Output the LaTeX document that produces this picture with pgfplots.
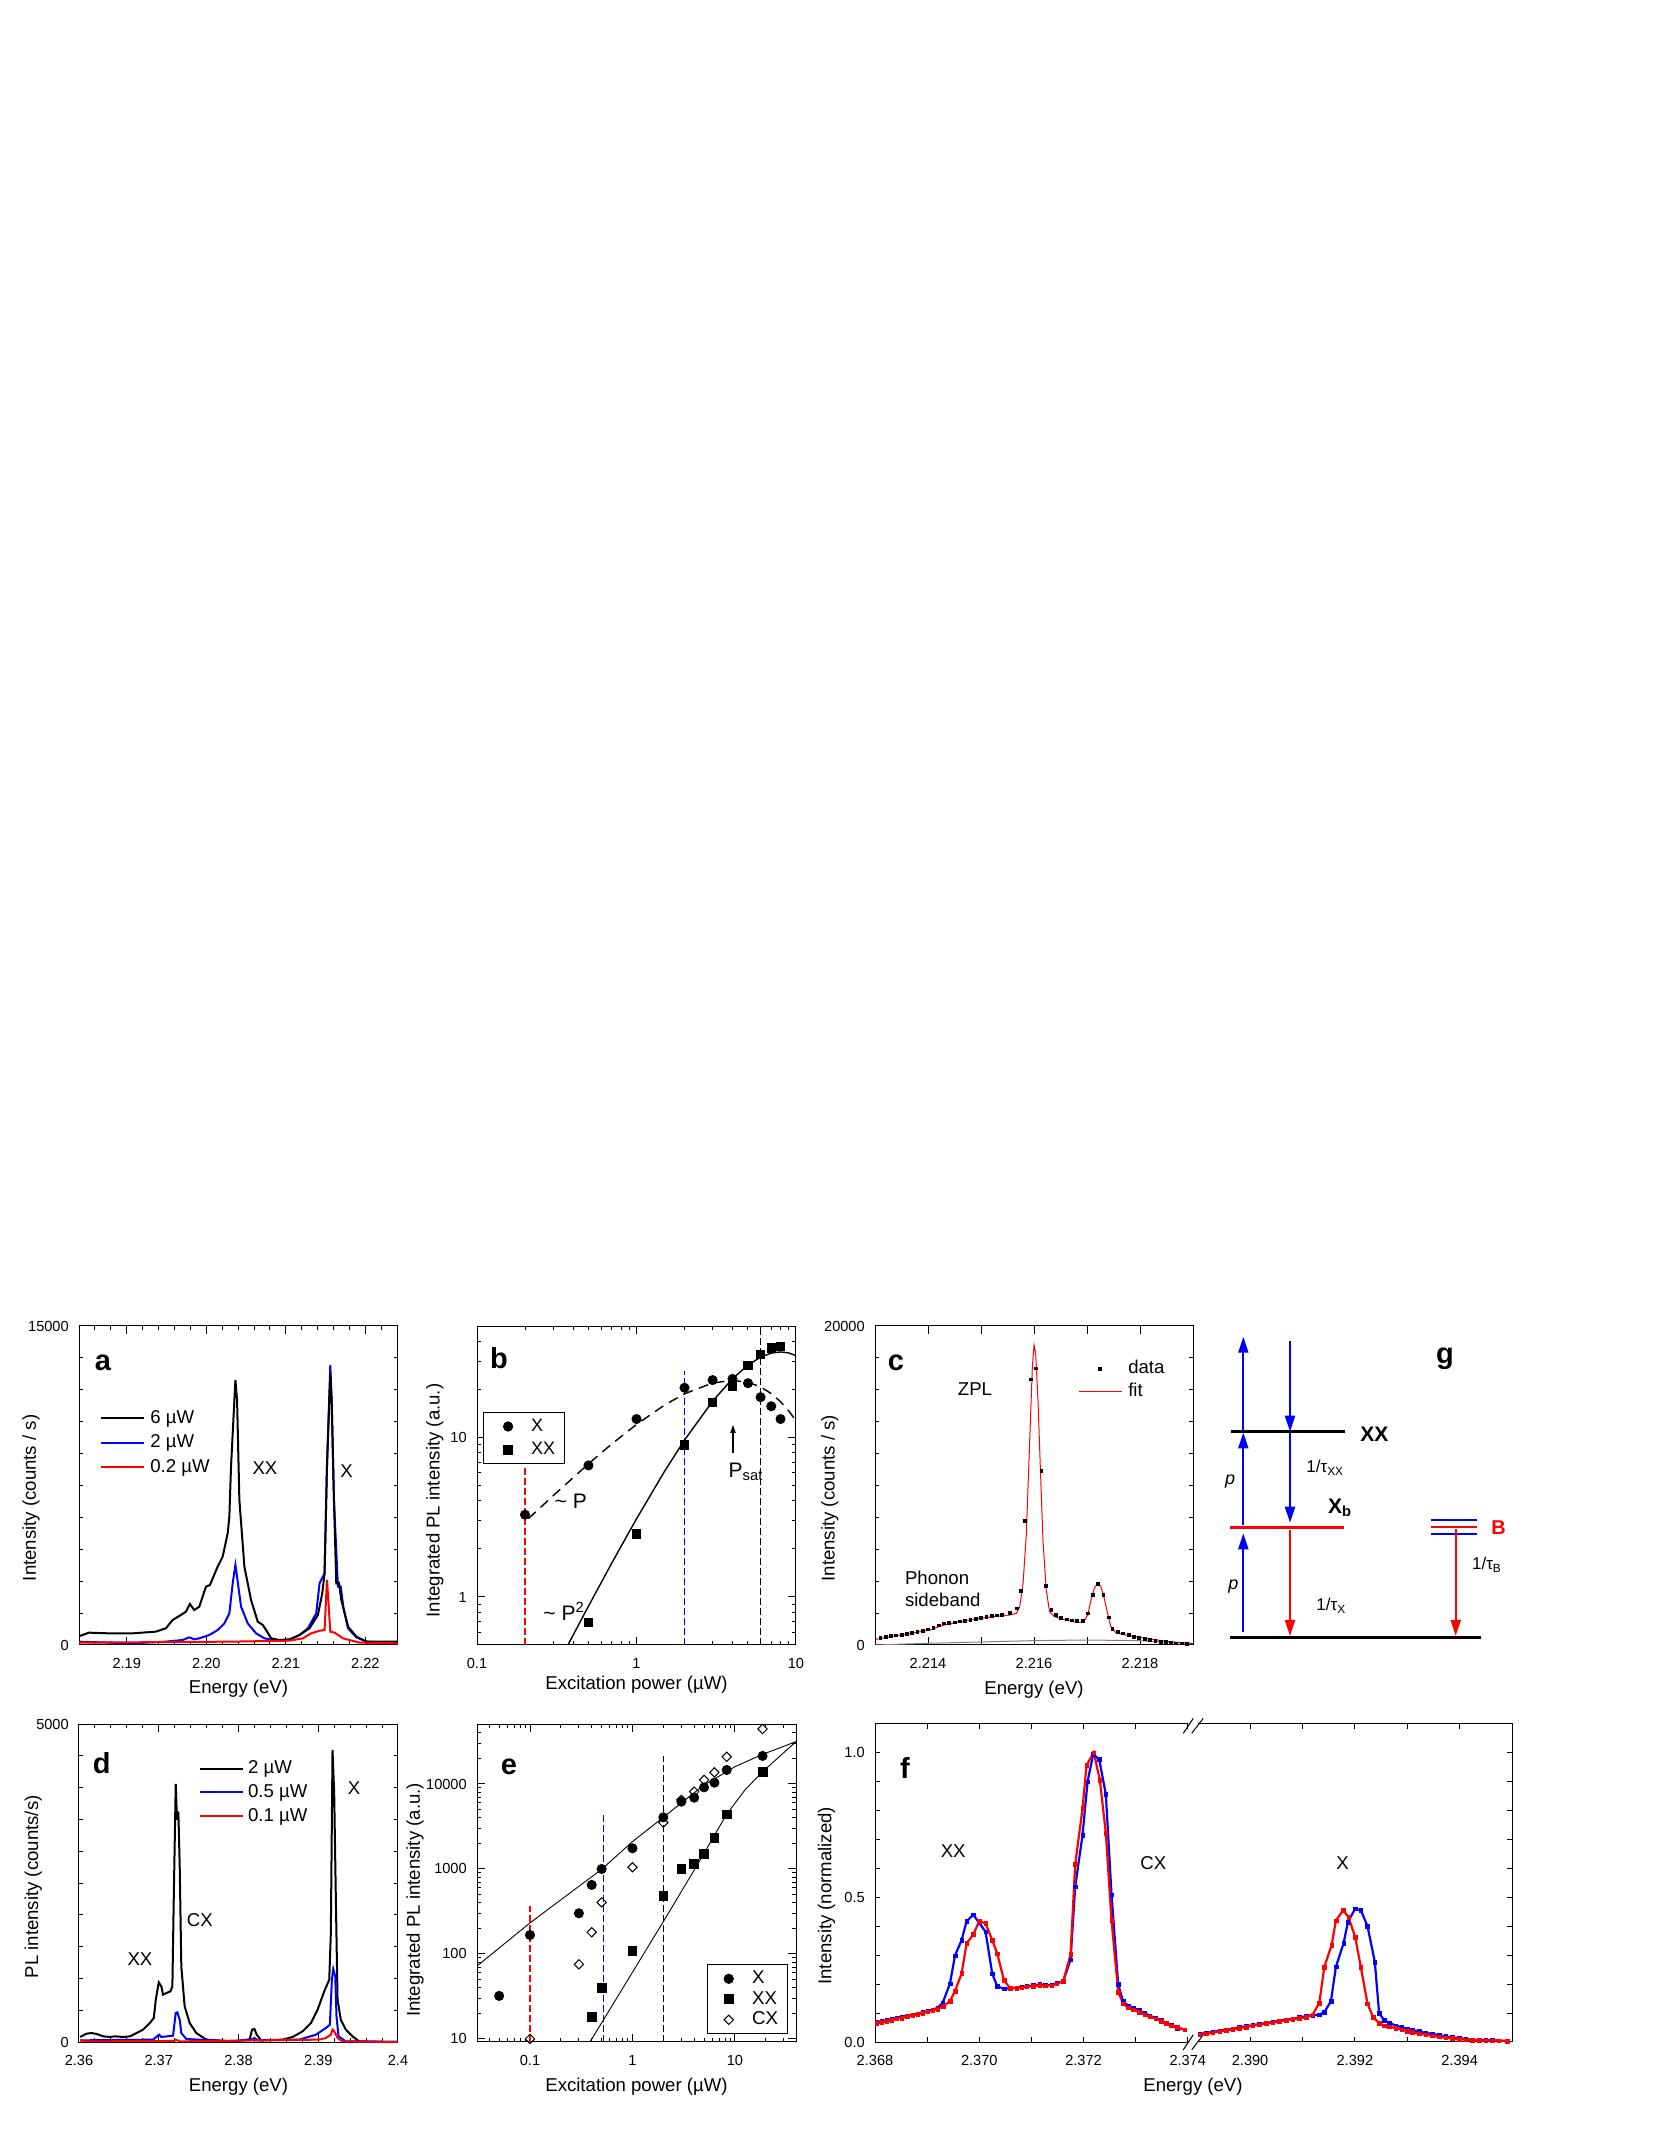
\documentclass[border=0pt]{standalone}
\usepackage{fontspec}
\setmainfont{Liberation Sans}
\usepackage{pgfplots}
\pgfplotsset{compat=1.18}
\usetikzlibrary{arrows.meta}
\newcommand\tfont{\fontsize{7.3}{8.5}\selectfont}
\newcommand\lfont{\fontsize{9.3}{11}\selectfont}
\newcommand\pfont{\fontsize{14.5}{16}\selectfont\bfseries}
\newcommand\afont{\fontsize{10.5}{12}\selectfont}

\pgfplotsset{
  panel/.style={scale only axis, anchor=south west, scaled ticks=false,
    axis line style={line width=0.5pt}, tick style={line width=0.5pt, black},
    major tick length=3.8pt, minor tick length=2pt,
    tick label style={font=\tfont}, xticklabel style={yshift=-3pt}, yticklabel style={xshift=-1.6pt},
    label style={font=\lfont}, legend cell align=left,
    legend image code/.code={\draw[mark repeat=2,mark phase=2,##1] plot coordinates {(0pt,0pt)(10.75pt,0pt)(21.5pt,0pt)};}},
  ylab/.style 2 args={ylabel style={at={(rel axis cs:#1,#2)}, anchor=center}},
  xlab/.style={xlabel style={at={(rel axis cs:0.5,#1)}, anchor=center}},
  plainleg/.style={draw=none, fill=none, inner sep=0pt, font=\lfont,
    nodes={inner sep=0pt, text height=6.5pt, text depth=1.5pt}},
}

\begin{document}
\begin{tikzpicture}
\path[use as bounding box] (0,0) rectangle (830.5pt,1074.5pt);

% ---------- a ----------
\begin{axis}[panel, at={(39.5pt,252pt)}, width=159.5pt, height=159.5pt,
  xmin=2.184, xmax=2.2241, ymin=0, ymax=15000,
  xtick={2.19,2.20,2.21,2.22}, xticklabels={2.19,2.20,2.21,2.22},
  minor xtick={2.184,2.186,2.188,2.192,2.194,2.196,2.198,2.202,2.204,2.206,2.208,2.212,2.214,2.216,2.218,2.222,2.224},
  ytick={0,15000}, yticklabels={0,15000}, minor ytick={1500,3000,...,13500},
  xlabel={Energy (eV)}, ylabel={Intensity (counts / s)}, ylab={-0.150}{0.461}, xlab={-0.138},
  legend style={plainleg, at={(rel axis cs:0.0658,0.7367)}, anchor=north west, row sep=4.2pt,
    /tikz/column 1/.style={column sep=2.5pt}},
]
\addlegendimage{black, line width=1pt}\addlegendentry{6 µW}
\addlegendimage{blue, line width=1pt}\addlegendentry{2 µW}
\addlegendimage{red, line width=1pt}\addlegendentry{0.2 µW}
\addplot[blue, line width=1pt, forget plot] coordinates {
(2.18387,157)(2.19071,78)(2.19492,157)(2.19702,235)(2.19786,360)(2.19849,266)(2.19912,313)
(2.20038,470)(2.20143,705)(2.20227,1018)(2.2029,1488)(2.20332,2899)(2.20366,3760)(2.20387,3212)
(2.20437,1802)(2.20521,1018)(2.20626,548)(2.20731,313)(2.20878,204)(2.21046,235)(2.21172,470)
(2.21277,784)(2.21382,1488)(2.21424,2899)(2.21487,3369)(2.21517,8384)(2.21559,13163)(2.21576,11520)
(2.21605,6817)(2.21655,2742)(2.2169,2742)(2.21723,1802)(2.21782,784)(2.21887,360)(2.22013,157)(2.22412,78)};
\addplot[black, line width=1pt, forget plot] coordinates {
(2.18387,392)(2.18525,580)(2.18777,548)(2.19071,548)(2.19366,627)(2.19492,784)(2.19576,1175)
(2.19681,1410)(2.19744,1567)(2.19794,1927)(2.19849,1645)(2.19912,1802)(2.19996,2742)(2.20046,2821)
(2.20143,3683)(2.20206,4153)(2.20269,5250)(2.2029,6030)(2.20311,8384)(2.20366,12458)(2.20387,11520)
(2.20416,6817)(2.20479,3683)(2.20563,2115)(2.20647,1097)(2.2071,940)(2.20752,705)(2.20815,313)
(2.2092,235)(2.21046,266)(2.21172,470)(2.21298,784)(2.21403,1410)(2.21458,2429)(2.21487,3369)
(2.21517,8384)(2.21559,12771)(2.21576,11520)(2.21605,6817)(2.21634,2899)(2.21668,2930)(2.21697,2115)
(2.21782,862)(2.21887,392)(2.22013,157)(2.22412,157)};
\addplot[red, line width=1pt, forget plot] coordinates {
(2.18387,110)(2.20311,157)(2.21046,204)(2.21214,313)(2.21319,548)(2.21424,670)(2.21487,705)
(2.21517,3055)(2.21534,2115)(2.21559,627)(2.21613,580)(2.21718,313)(2.21929,110)(2.22412,78)};
\node[font=\pfont] at (rel axis cs:0.075,0.884) {a};
\node[font=\lfont] at (rel axis cs:0.583,0.555) {XX};
\node[font=\lfont] at (rel axis cs:0.839,0.546) {X};
\end{axis}

% ---------- b ----------
\begin{axis}[panel, at={(238.5pt,252pt)}, width=159.5pt, height=159.5pt,
  xmode=log, ymode=log, xmin=0.1, xmax=10, ymin=0.5, ymax=50,
  xtick={0.1,1,10}, xticklabels={0.1,1,10},
  minor xtick={0.2,0.3,0.4,0.5,0.6,0.7,0.8,0.9,2,3,4,5,6,7,8,9},
  ytick={1,10}, yticklabels={1,10},
  minor ytick={0.5,0.6,0.7,0.8,0.9,2,3,4,5,6,7,8,9,20,30,40,50},
  xlabel={Excitation power (µW)}, ylabel={Integrated PL intensity (a.u.)}, ylab={-0.132}{0.453}, xlab={-0.125},
  legend style={at={(rel axis cs:0.0188,0.7304)}, anchor=north west, draw=black, line width=0.5pt, fill=white,
    inner xsep=4.8pt, inner ysep=3pt, row sep=3.65pt, font=\fontsize{9}{10}\selectfont,
    nodes={inner sep=0pt, text height=6.5pt, text depth=1.5pt}, /tikz/column 1/.style={column sep=4.5pt}},
  legend image code/.code={\path[draw=none,fill=none] (0pt,-1pt) rectangle (14.5pt,1pt); \draw[#1, only marks] plot coordinates {(7.5pt,0pt)};},
]
\addplot[red, line width=0.7pt, dash pattern=on 3.3pt off 1.7pt, forget plot] coordinates {(0.2,0.5)(0.2,6.6)};
\addplot[blue, line width=0.6pt, dash pattern=on 3.3pt off 1.7pt, forget plot] coordinates {(2,0.5)(2,26)};
\addplot[black, line width=0.6pt, dash pattern=on 3.3pt off 1.7pt, forget plot] coordinates {(6,0.5)(6,47)};
\addplot[black, line width=0.7pt, dash pattern=on 5pt off 3.3pt, forget plot] coordinates {
(0.21,3.1)(0.3,4.31)(0.5,6.84)(0.7,9.11)(1,12.07)(1.5,15.98)(2,18.8)(3,21.97)(4,22.81)(5,22.2)
(6,20.75)(7,18.85)(8,16.78)(9,14.7)(10,12.72)};
\addplot[black, line width=0.7pt, forget plot] coordinates {
(0.37,0.496)(0.5,0.876)(0.7,1.633)(1,3.09)(1.5,6.14)(2,9.63)(3,16.88)(4,23.37)(5,28.43)(6,31.89)
(7,33.81)(8,34.38)(9,33.89)(10,32.59)};
\addplot[only marks, mark=*, mark size=2.3pt, black] coordinates {
(0.2,3.28)(0.5,6.68)(1,13.05)(2,20.5)(3,22.9)(4,23.3)(5,21.9)(6,17.9)(7,15.7)(8,13.05)};
\addlegendentry{X}
\addplot[only marks, mark=square*, mark size=2.1pt, black] coordinates {
(0.5,0.69)(1,2.48)(2,8.99)(3,16.6)(4,21.0)(5,28.4)(6,33.1)(7,36.5)(8,37.4)};
\addlegendentry{XX}
\node[font=\pfont] at (rel axis cs:0.069,0.9) {b};
\node[font=\afont] at (rel axis cs:0.294,0.449) {\textasciitilde{} P};
\node[font=\afont] at (rel axis cs:0.273,0.104) {\textasciitilde{} P\textsuperscript{2}};
\node[font=\afont, anchor=west] at (rel axis cs:0.767,0.543) {P\textsubscript{sat}};
\draw[-{Triangle[length=4pt,width=2.6pt]}, line width=0.6pt] (rel axis cs:0.8025,0.602) -- (rel axis cs:0.8025,0.690);
\end{axis}

% ---------- c ----------
\begin{axis}[panel, at={(437.5pt,252pt)}, width=159pt, height=159.5pt,
  xmin=2.213, xmax=2.219, ymin=0, ymax=20000,
  xtick={2.214,2.215,2.216,2.217,2.218}, xticklabels={2.214,{},2.216,{},2.218},
  ytick={0,20000}, yticklabels={0,20000}, minor ytick={2000,4000,...,18000},
  xlabel={Energy (eV)}, ylabel={Intensity (counts / s)}, ylab={-0.142}{0.46}, xlab={-0.141},
  legend style={plainleg, at={(rel axis cs:0.638,0.8925)}, anchor=north west, row sep=3.2pt,
    /tikz/column 1/.style={column sep=3pt}},
]
\addlegendimage{only marks, mark=square*, mark size=0.8pt, black}\addlegendentry{data}
\addlegendimage{red, line width=0.5pt}\addlegendentry{fit}
\addplot[gray, line width=0.5pt, forget plot] coordinates {
(2.21301,0)(2.21398,104)(2.21498,188)(2.21598,272)(2.21698,313)(2.21798,272)(2.21898,104)(2.219,100)};
\addplot[red, line width=0.5pt, forget plot] coordinates {
(2.213013,355)(2.213544,669)(2.214044,940)(2.214231,1191)(2.214606,1463)(2.215106,1735)(2.215544,1881)
(2.215669,1986)(2.215731,2404)(2.215794,3867)(2.215856,7000)(2.215919,12850)(2.215969,17450)(2.216,18810)
(2.216031,18290)(2.216075,15365)(2.216119,11180)(2.216169,6580)(2.216231,3450)(2.216294,2090)(2.216388,1777)
(2.216544,1609)(2.216731,1463)(2.216856,1420)(2.21695,1505)(2.217013,1881)(2.217075,2822)(2.217138,3553)
(2.2172,3867)(2.217263,3658)(2.217325,2926)(2.217388,1986)(2.21745,1150)(2.217544,773)(2.217731,627)
(2.218106,418)(2.218544,209)(2.218981,104)};
\addplot[only marks, mark=square*, mark size=0.7pt, black, forget plot] coordinates {
(2.2131,439)(2.2132,502)(2.2133,564)(2.2134,606)(2.2135,648)(2.2136,711)(2.2137,773)(2.2138,836)
(2.2139,899)(2.2140,982)(2.2141,1087)(2.2142,1233)(2.2143,1359)(2.2144,1379)(2.2145,1421)(2.2146,1484)
(2.2147,1526)(2.2148,1588)(2.2149,1651)(2.2150,1714)(2.2151,1777)(2.2152,1818)(2.2153,1860)(2.2154,1902)
(2.21554,2027)(2.21567,2299)(2.21575,3386)(2.21583,7775)(2.21594,16657)(2.21603,17347)(2.21614,10910)
(2.21622,3699)(2.21633,2195)(2.21642,1881)(2.21651,1714)(2.21662,1609)(2.21672,1547)(2.21681,1505)
(2.21692,1505)(2.21701,1986)(2.21711,3135)(2.21721,3825)(2.21731,3135)(2.21741,1735)(2.21748,1024)
(2.21759,836)(2.21768,732)(2.21779,627)(2.21789,523)(2.21798,460)(2.21809,376)(2.21819,314)(2.21829,272)
(2.21839,209)(2.21849,188)(2.21859,146)(2.21868,104)(2.21879,104)(2.21889,63)};
\node[font=\pfont] at (rel axis cs:0.066,0.885) {c};
\node[font=\lfont] at (rel axis cs:0.3145,0.8016) {ZPL};
\node[font=\lfont, anchor=west] at (rel axis cs:0.0723,0.21) {Phonon};
\node[font=\lfont, anchor=west] at (rel axis cs:0.0723,0.141) {sideband};
\end{axis}

% ---------- g ----------
\begin{axis}[at={(600pt,249.5pt)}, anchor=south west, scale only axis, width=160pt, height=165pt,
  xmin=1200, xmax=1520, ymin=-1650, ymax=-1320, hide axis, clip=false]
\draw[black, line width=1.3pt] (axis cs:1230.7,-1431.7) -- (axis cs:1345,-1431.7);
\draw[red, line width=1.3pt] (axis cs:1230,-1527.7) -- (axis cs:1344.3,-1527.7);
\draw[black, line width=1.3pt] (axis cs:1230,-1637.7) -- (axis cs:1481,-1637.7);
\draw[blue, line width=1pt] (axis cs:1430.7,-1520.3) -- (axis cs:1477.3,-1520.3);
\draw[red, line width=1pt] (axis cs:1430.7,-1527.3) -- (axis cs:1477.3,-1527.3);
\draw[blue, line width=1pt] (axis cs:1430.7,-1533.7) -- (axis cs:1477.3,-1533.7);
\draw[blue, line width=1pt, -{Triangle[length=8pt,width=5pt]}] (axis cs:1243.3,-1632) -- (axis cs:1243.3,-1533.3);
\draw[blue, line width=1pt, -{Triangle[length=8pt,width=5pt]}] (axis cs:1243.3,-1525) -- (axis cs:1243.3,-1432.5);
\draw[blue, line width=1pt, -{Triangle[length=8pt,width=5pt]}] (axis cs:1243.3,-1430) -- (axis cs:1243.3,-1336.7);
\draw[blue, line width=1pt, -{Triangle[length=8pt,width=5pt]}] (axis cs:1290,-1340.7) -- (axis cs:1290,-1431.7);
\draw[blue, line width=1pt, -{Triangle[length=8pt,width=5pt]}] (axis cs:1290,-1433.3) -- (axis cs:1290,-1522.7);
\draw[red, line width=1pt, -{Triangle[length=8pt,width=5pt]}] (axis cs:1290,-1530) -- (axis cs:1290,-1636);
\draw[red, line width=1pt, -{Triangle[length=8pt,width=5pt]}] (axis cs:1455.7,-1529.3) -- (axis cs:1455.7,-1636);
\node[font=\bfseries\fontsize{10.5}{12}\selectfont, anchor=west] at (axis cs:1353.3,-1434) {XX};
\node[font=\bfseries\fontsize{10.5}{12}\selectfont, anchor=west] at (axis cs:1321,-1508) {X\textsubscript{b}};
\node[font=\bfseries\fontsize{10}{12}\selectfont, anchor=west, red] at (axis cs:1484.3,-1528) {B};
\node[font=\itshape\fontsize{9}{10}\selectfont] at (axis cs:1230,-1481.7) {p};
\node[font=\itshape\fontsize{9}{10}\selectfont] at (axis cs:1233.3,-1586.7) {p};
\node[font=\fontsize{8.5}{10}\selectfont, anchor=west] at (axis cs:1299.3,-1468) {1/τ\textsubscript{XX}};
\node[font=\fontsize{8.5}{10}\selectfont, anchor=west] at (axis cs:1309.3,-1606) {1/τ\textsubscript{X}};
\node[font=\fontsize{8.5}{10}\selectfont, anchor=west] at (axis cs:1465,-1565) {1/τ\textsubscript{B}};
\node[font=\pfont] at (axis cs:1445,-1358.3) {g};
\end{axis}

% ---------- d ----------
\begin{axis}[panel, at={(39.5pt,53.5pt)}, width=159.5pt, height=159pt,
  xmin=2.36, xmax=2.4, ymin=0, ymax=5000,
  xtick={2.36,2.37,2.38,2.39,2.4}, xticklabels={2.36,2.37,2.38,2.39,2.4},
  minor xtick={2.362,2.364,2.366,2.368,2.372,2.374,2.376,2.378,2.382,2.384,2.386,2.388,2.392,2.394,2.396,2.398},
  ytick={0,5000}, yticklabels={0,5000}, minor ytick={500,1000,...,4500},
  xlabel={Energy (eV)}, ylabel={PL intensity (counts/s)}, ylab={-0.143}{0.488}, xlab={-0.14},
  legend style={plainleg, at={(rel axis cs:0.374,0.886)}, anchor=north west, row sep=3.85pt,
    /tikz/column 1/.style={column sep=2.2pt}},
]
\addlegendimage{black, line width=1pt}\addlegendentry{2 µW}
\addlegendimage{blue, line width=1pt}\addlegendentry{0.5 µW}
\addlegendimage{red, line width=1pt}\addlegendentry{0.1 µW}
\addplot[black, line width=1pt, forget plot] coordinates {
(2.36013,79)(2.36096,131)(2.36158,141)(2.36221,126)(2.36304,89)(2.36388,79)(2.3645,89)(2.36554,79)
(2.36638,89)(2.36721,141)(2.36804,194)(2.36888,298)(2.36938,377)(2.36963,665)(2.37,937)(2.37033,874)
(2.37054,744)(2.37096,770)(2.37146,796)(2.37171,874)(2.37188,2236)(2.37213,4058)(2.37229,3492)
(2.37246,3623)(2.37263,2759)(2.37283,1189)(2.37325,560)(2.37388,298)(2.37471,141)(2.37596,37)
(2.37929,10)(2.38138,37)(2.38171,194)(2.382,204)(2.38229,115)(2.38283,26)(2.38554,37)(2.38679,79)
(2.38804,168)(2.38908,298)(2.38992,508)(2.39075,796)(2.39138,979)(2.39158,1712)(2.39179,4592)
(2.392,3911)(2.39221,2236)(2.39242,665)(2.39283,351)(2.39346,194)(2.39429,89)(2.39513,10)(2.39992,0)};
\addplot[blue, line width=1pt, forget plot] coordinates {
(2.36013,26)(2.36929,37)(2.37004,115)(2.37033,79)(2.37179,99)(2.37213,456)(2.37233,466)(2.37263,351)
(2.37283,141)(2.37346,47)(2.37929,10)(2.38179,47)(2.382,63)(2.38242,26)(2.38763,37)(2.38971,115)
(2.39096,220)(2.39146,272)(2.39171,979)(2.39188,1147)(2.39213,1031)(2.39229,403)(2.39254,89)
(2.39346,10)(2.39992,0)};
\addplot[red, line width=1pt, forget plot] coordinates {
(2.36013,26)(2.36096,10)(2.37179,16)(2.37213,37)(2.37263,10)(2.39013,37)(2.39096,63)(2.39158,115)
(2.39179,194)(2.392,168)(2.39242,63)(2.39304,10)(2.39992,0)};
\node[font=\pfont] at (rel axis cs:0.071,0.876) {d};
\node[font=\lfont] at (rel axis cs:0.191,0.26) {XX};
\node[font=\lfont] at (rel axis cs:0.379,0.384) {CX};
\node[font=\lfont] at (rel axis cs:0.862,0.798) {X};
\end{axis}

% ---------- e ----------
\begin{axis}[panel, at={(238.5pt,53.5pt)}, width=159.5pt, height=159pt,
  xmode=log, ymode=log, xmin=0.0304, xmax=39.4, ymin=9.2, ymax=50800,
  xtick={0.1,1,10}, xticklabels={0.1,1,10},
  minor xtick={0.04,0.05,0.06,0.07,0.08,0.09,0.2,0.3,0.4,0.5,0.6,0.7,0.8,0.9,2,3,4,5,6,7,8,9,20,30},
  ytick={10,100,1000,10000}, yticklabels={10,100,1000,10000},
  minor ytick={20,30,40,50,60,70,80,90,200,300,400,500,600,700,800,900,2000,3000,4000,5000,6000,7000,8000,9000,20000,30000,40000,50000},
  xlabel={Excitation power (µW)}, ylabel={Integrated PL intensity (a.u.)}, ylab={-0.194}{0.447}, xlab={-0.14},
  legend style={at={(rel axis cs:0.72,0.2443)}, anchor=north west, draw=black, line width=0.5pt, fill=white,
    inner xsep=4.8pt, inner ysep=3pt, row sep=2.25pt, font=\lfont,
    nodes={inner sep=0pt, text height=6.5pt, text depth=1.5pt}, /tikz/column 1/.style={column sep=3.7pt}},
  legend image code/.code={\path[draw=none,fill=none] (0pt,-1pt) rectangle (14pt,1pt); \draw[#1, only marks] plot coordinates {(6pt,0pt)};},
]
\addplot[red, line width=0.7pt, dash pattern=on 3.3pt off 1.7pt, forget plot] coordinates {(0.1,9.2)(0.1,367)};
\addplot[blue, line width=0.6pt, dash pattern=on 3.3pt off 1.7pt, forget plot] coordinates {(0.52,9.2)(0.52,4400)};
\addplot[black, line width=0.6pt, dash pattern=on 3.3pt off 1.7pt, forget plot] coordinates {(2,9.2)(2,21400)};
\addplot[black, line width=0.45pt, forget plot] coordinates {
(0.0304,72)(0.1,232)(0.5,991)(1,2100)(2,4054)(3,6000)(5,9720)(10,16000)(18.6,22300)(39.4,31500)};
\addplot[black, line width=0.45pt, forget plot] coordinates {
(0.385,9.2)(1,61)(2,240)(4.06,1000)(8.3,4400)(12.5,8500)(18.6,13960)(39.4,31500)};
\addplot[only marks, mark=*, mark size=2.3pt, black] coordinates {
(0.05,32.1)(0.1,167)(0.3,301)(0.4,649)(0.5,1000)(1,1750)(2,4054)(3,6200)(4,6900)(5,9130)(6.3,10370)
(8.3,14620)(18.6,21390)};
\addlegendentry{X}
\addplot[only marks, mark=square*, mark size=2.2pt, black] coordinates {
(0.4,18)(0.5,39.5)(1,109)(2,481)(3,1000)(4,1145)(5,1500)(6.3,2340)(8.3,4393)(18.6,13960)};
\addlegendentry{XX}
\addplot[only marks, mark=square, mark size=1.65pt, mark options={rotate=45, fill=white, line width=0.5pt}, black] coordinates {
(0.1,10)(0.3,75.5)(0.4,180)(0.5,405)(1,1047)(2,3509)(3,6485)(4,8130)(5,11150)(6.3,13700)(8.3,20900)(18.6,44400)};
\addlegendentry{CX}
\node[font=\pfont] at (rel axis cs:0.1,0.866) {e};
\end{axis}

% ---------- f (left part) ----------
\begin{axis}[panel, at={(437.5pt,53.5pt)}, width=159pt, height=159pt,
  xmin=2.368, xmax=2.3741, ymin=0, ymax=1.1, major tick length=2.5pt,
  xtick={2.368,2.369,2.370,2.371,2.372,2.373,2.374}, xticklabels={2.368,{},2.370,{},2.372,{},2.374},
  ytick={0,0.1,0.2,0.3,0.4,0.5,0.6,0.7,0.8,0.9,1.0}, yticklabels={0.0,{},{},{},{},0.5,{},{},{},{},1.0},
  ytick pos=left, clip=false,
  xlabel={Energy (eV)}, ylabel={Intensity (normalized)}, ylab={-0.152}{0.46},
  xlabel style={at={(rel axis cs:1.0,-0.142)}, anchor=center},
]
\addplot[blue, line width=1.1pt, mark=square*, mark size=0.9pt, mark options={line width=0.2pt}] coordinates {
(2.368032,0.068)(2.368128,0.072)(2.368224,0.075)(2.368319,0.080)(2.368415,0.083)(2.368511,0.087)
(2.368620,0.091)(2.368722,0.095)(2.368818,0.098)(2.368914,0.103)(2.369010,0.107)(2.369105,0.112)
(2.369201,0.118)(2.369297,0.135)(2.369438,0.202)(2.369534,0.299)(2.369661,0.352)(2.369757,0.418)
(2.369885,0.440)(2.370000,0.412)(2.370121,0.381)(2.370249,0.236)(2.370345,0.193)(2.370473,0.184)
(2.370588,0.186)(2.370716,0.188)(2.370812,0.191)(2.370907,0.193)(2.371035,0.196)(2.371163,0.199)
(2.371259,0.197)(2.371387,0.197)(2.371482,0.204)(2.371610,0.210)(2.371751,0.285)(2.371840,0.537)
(2.371981,0.716)(2.372077,0.900)(2.372185,0.995)(2.372300,0.978)(2.372428,0.857)(2.372537,0.510)
(2.372665,0.199)(2.372760,0.141)(2.372856,0.126)(2.372952,0.118)(2.373067,0.109)(2.373176,0.100)
(2.373272,0.091)(2.373387,0.083)(2.373495,0.075)(2.373591,0.066)(2.373687,0.058)(2.373796,0.048)
(2.373942,0.043)};
\addplot[red, line width=1.1pt, mark=square*, mark size=0.9pt, mark options={line width=0.2pt}] coordinates {
(2.368032,0.064)(2.368128,0.068)(2.368224,0.072)(2.368319,0.075)(2.368415,0.080)(2.368511,0.083)
(2.368620,0.089)(2.368722,0.092)(2.368818,0.096)(2.368914,0.100)(2.369010,0.105)(2.369105,0.110)
(2.369201,0.114)(2.369310,0.124)(2.369438,0.141)(2.369534,0.176)(2.369661,0.237)(2.369757,0.341)
(2.369885,0.372)(2.370000,0.418)(2.370121,0.410)(2.370249,0.352)(2.370345,0.306)(2.370473,0.214)
(2.370588,0.187)(2.370716,0.186)(2.370812,0.188)(2.370907,0.191)(2.371035,0.193)(2.371163,0.196)
(2.371259,0.195)(2.371387,0.195)(2.371482,0.202)(2.371610,0.210)(2.371751,0.303)(2.371840,0.614)
(2.371981,0.808)(2.372058,0.958)(2.372198,1.001)(2.372313,0.906)(2.372428,0.722)(2.372537,0.421)
(2.372665,0.173)(2.372760,0.133)(2.372856,0.118)(2.372952,0.112)(2.373067,0.103)(2.373176,0.095)
(2.373272,0.087)(2.373387,0.081)(2.373495,0.072)(2.373591,0.066)(2.373687,0.057)(2.373796,0.051)
(2.373942,0.043)};
\node[font=\pfont] at (rel axis cs:0.094,0.861) {f};
\node[font=\lfont] at (rel axis cs:0.246,0.6016) {XX};
\node[font=\lfont] at (rel axis cs:0.875,0.562) {CX};
\end{axis}

% ---------- f (right part) ----------
\begin{axis}[panel, at={(596.5pt,53.5pt)}, width=159.5pt, height=159pt,
  xmin=2.38891, xmax=2.395, ymin=0, ymax=1.1, major tick length=2.5pt,
  xtick={2.390,2.391,2.392,2.393,2.394}, xticklabels={2.390,{},2.392,{},2.394},
  ytick={0,0.1,0.2,0.3,0.4,0.5,0.6,0.7,0.8,0.9,1.0}, yticklabels={{},{},{},{},{},{},{},{},{},{},{}},
  ytick pos=right, clip=false,
]
\addplot[blue, line width=1.1pt, mark=square*, mark size=0.9pt, mark options={line width=0.2pt}] coordinates {
(2.389035,0.028)(2.389162,0.031)(2.389289,0.035)(2.389416,0.039)(2.389543,0.043)(2.389670,0.046)
(2.389797,0.051)(2.389924,0.054)(2.390051,0.058)(2.390178,0.062)(2.390305,0.066)(2.390432,0.069)
(2.390559,0.074)(2.390686,0.077)(2.390813,0.081)(2.390940,0.085)(2.391067,0.089)(2.391194,0.092)
(2.391321,0.095)(2.391416,0.103)(2.391543,0.141)(2.391638,0.260)(2.391784,0.341)(2.391867,0.415)
(2.392006,0.461)(2.392114,0.456)(2.392241,0.401)(2.392381,0.277)(2.392463,0.100)(2.392559,0.075)
(2.392654,0.066)(2.392781,0.057)(2.392895,0.051)(2.393003,0.045)(2.393098,0.040)(2.393225,0.037)
(2.393352,0.031)(2.393479,0.028)(2.393606,0.023)(2.393733,0.020)(2.393860,0.016)(2.393987,0.014)
(2.394114,0.010)(2.394241,0.008)(2.394368,0.006)(2.394495,0.006)(2.394622,0.006)(2.394749,0.005)
(2.394908,0.003)};
\addplot[red, line width=1.1pt, mark=square*, mark size=0.9pt, mark options={line width=0.2pt}] coordinates {
(2.389035,0.025)(2.389162,0.029)(2.389289,0.032)(2.389416,0.037)(2.389543,0.040)(2.389670,0.044)
(2.389797,0.048)(2.389924,0.052)(2.390051,0.057)(2.390178,0.060)(2.390305,0.064)(2.390432,0.067)
(2.390559,0.072)(2.390686,0.075)(2.390813,0.079)(2.390940,0.082)(2.391067,0.085)(2.391194,0.095)
(2.391321,0.135)(2.391416,0.259)(2.391556,0.335)(2.391638,0.420)(2.391778,0.456)(2.391879,0.432)
(2.392006,0.363)(2.392114,0.259)(2.392241,0.133)(2.392349,0.085)(2.392463,0.066)(2.392559,0.057)
(2.392654,0.053)(2.392781,0.048)(2.392895,0.043)(2.393003,0.037)(2.393098,0.033)(2.393225,0.029)
(2.393352,0.025)(2.393479,0.022)(2.393606,0.018)(2.393733,0.015)(2.393860,0.013)(2.393987,0.010)
(2.394114,0.008)(2.394241,0.007)(2.394368,0.006)(2.394495,0.005)(2.394622,0.005)(2.394749,0.005)
(2.394908,0.003)};
\node[font=\lfont] at (rel axis cs:0.469,0.562) {X};
% axis break
\draw[white, line width=1.6pt] (rel axis cs:0,0.003) -- (rel axis cs:0,0.997);
\begin{scope}[shift={(rel axis cs:0,1)}]
  \fill[white] (-2.3pt,-1pt) rectangle (2.6pt,1pt);
  \draw[line width=0.5pt] (-4.85pt,-4.65pt) -- (0.15pt,2.85pt);
  \draw[line width=0.5pt] (-0.65pt,-4.65pt) -- (5.15pt,2.85pt);
\end{scope}
\begin{scope}[shift={(rel axis cs:0,0)}]
  \fill[white] (-2.3pt,-1pt) rectangle (2.6pt,1pt);
  \draw[line width=0.5pt] (-4.85pt,-3.9pt) -- (0.15pt,3.6pt);
  \draw[line width=0.5pt] (-0.65pt,-3.9pt) -- (5.15pt,3.6pt);
\end{scope}
\end{axis}
\end{tikzpicture}
\end{document}
